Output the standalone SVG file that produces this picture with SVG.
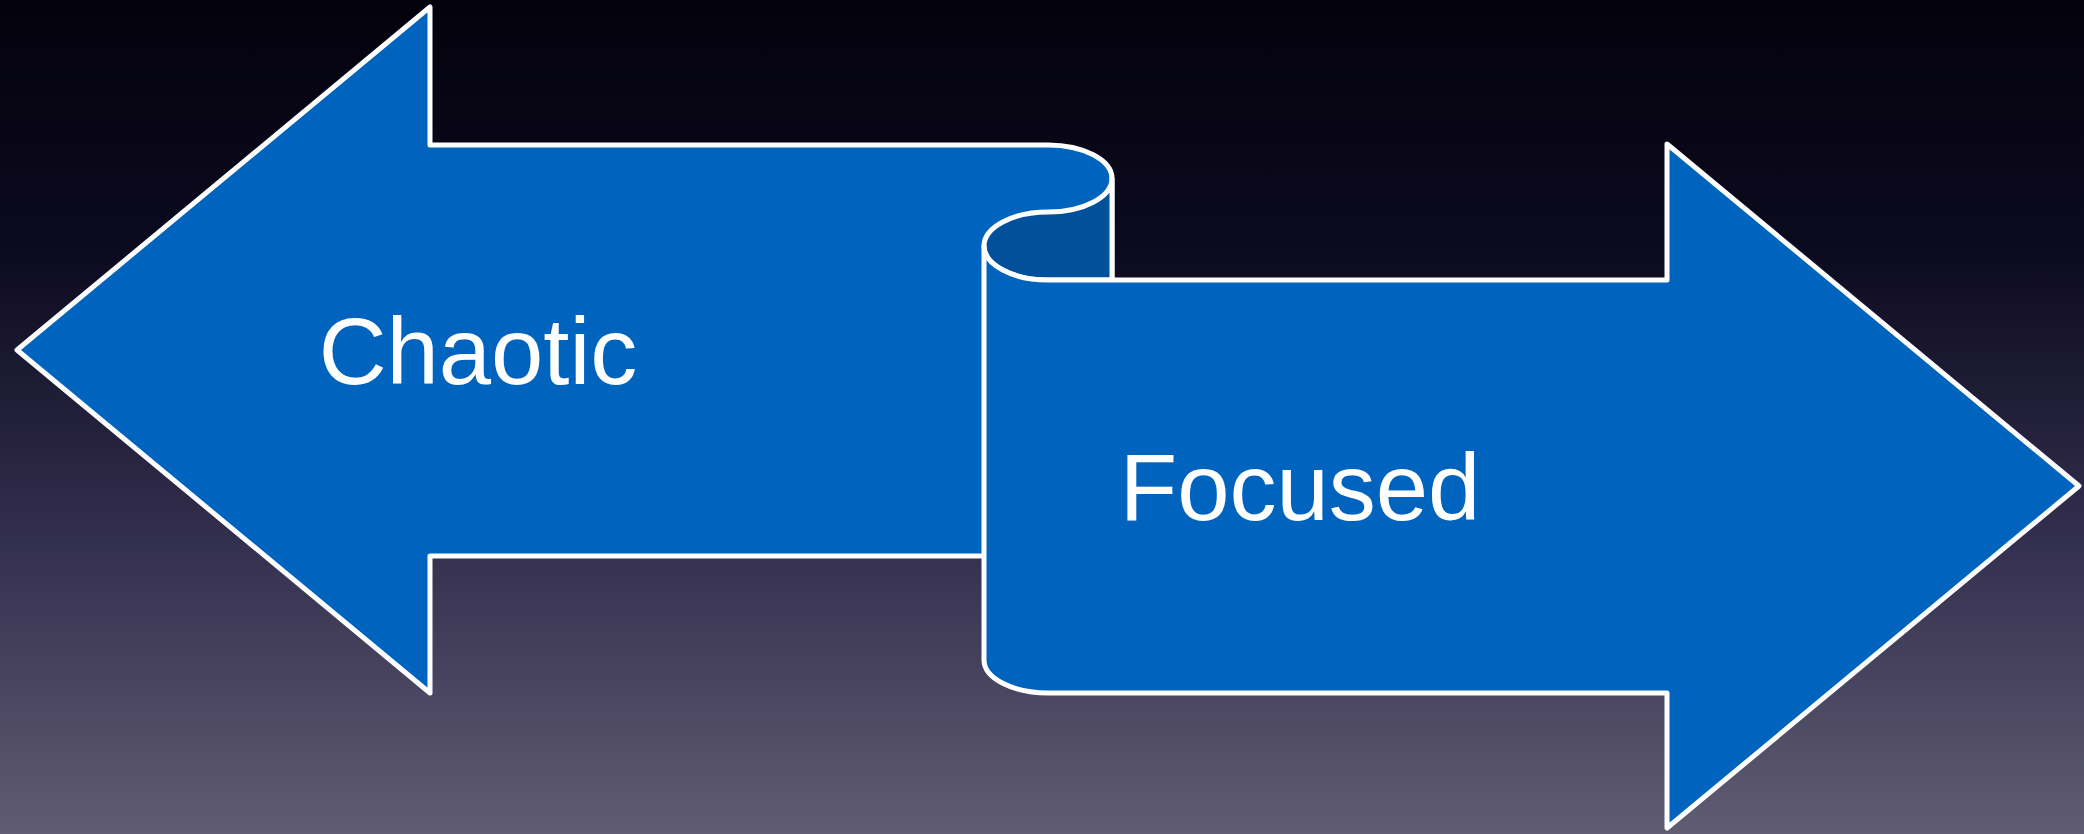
<svg xmlns="http://www.w3.org/2000/svg" width="2084" height="834" viewBox="0 0 2084 834">
<defs>
<linearGradient id="bg" x1="0" y1="0" x2="0" y2="1">
<stop offset="0" stop-color="#03020c"/>
<stop offset="0.3" stop-color="#0c0a1f"/>
<stop offset="0.65" stop-color="#332f4e"/>
<stop offset="1" stop-color="#5f5c73"/>
</linearGradient>
</defs>
<style>
.shape{fill:#0064be;stroke:#ffffff;stroke-width:5;stroke-linejoin:round}
.dark{fill:#00509c;stroke:#ffffff;stroke-width:5;stroke-linejoin:round}
.lbl{font-family:"Liberation Sans",Arial,sans-serif;font-size:94px;fill:#ffffff;text-anchor:middle}
</style>
<rect x="0" y="0" width="2084" height="834" fill="url(#bg)"/>
<g id="chaotic-arrow">
<path class="shape" d="M17,350 L430,7 L430,145 L1048,145 A64,33.5 0 0 1 1112,178.5 L1112,556 L430,556 L430,693 Z"/>
<text class="lbl" x="478" y="384">Chaotic</text>
</g>
<g id="curl">
<path class="dark" d="M1112,178.5 A64,33.5 0 0 1 1048,212 A64,34 0 0 0 1048,280 L1112,280 Z"/>
</g>
<g id="focused-arrow">
<path class="shape" d="M984,246 A64,34 0 0 0 1048,280 L1667,280 L1667,144 L2079,486 L1667,828 L1667,693 L1048,693 A64,33 0 0 1 984,660 Z"/>
<text class="lbl" x="1300" y="520">Focused</text>
</g>
<g id="connectors"/>
</svg>
